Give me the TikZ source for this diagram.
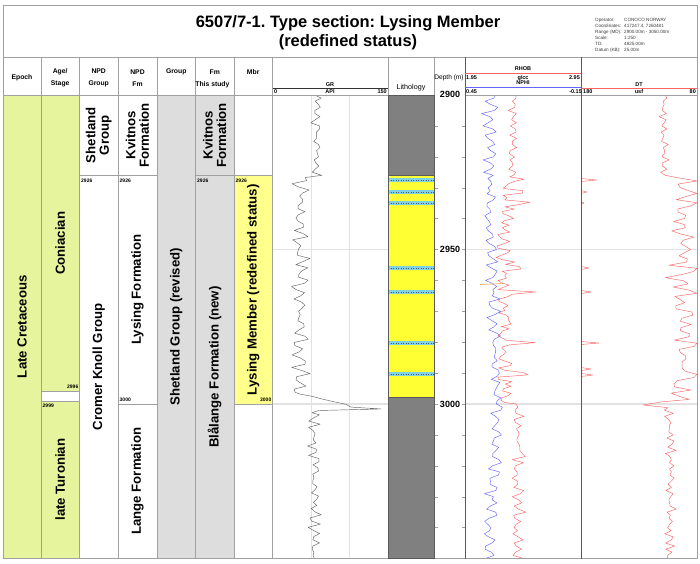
\documentclass[tikz,border=0pt]{standalone}
\usepackage{fontspec}
\setmainfont{Liberation Sans}
\frenchspacing
\definecolor{epochc}{RGB}{230,244,158}
\definecolor{grayc}{RGB}{221,221,221}
\definecolor{mbrc}{RGB}{255,255,140}
\definecolor{sandc}{RGB}{255,255,51}
\definecolor{shalec}{RGB}{128,128,128}
\definecolor{carbc}{RGB}{125,210,230}
\definecolor{linec}{RGB}{160,160,160}
\definecolor{darkline}{RGB}{90,90,90}
\definecolor{gridc}{RGB}{226,226,226}
\definecolor{rhobc}{RGB}{250,100,100}
\definecolor{nphic}{RGB}{100,100,250}
\definecolor{grcol}{RGB}{100,100,100}
\definecolor{infoc}{RGB}{60,60,60}
\definecolor{markc}{RGB}{240,170,80}
\begin{document}
\begin{tikzpicture}[x=1pt,y=-1pt,
  cell/.style={draw=linec,line width=0.5pt},
  hdr/.style={font=\bfseries\fontsize{6.8}{11.5}\selectfont,align=center,inner sep=0pt},
  trk/.style={font=\bfseries\fontsize{5.5}{6}\selectfont,inner sep=0pt},
  body/.style={font=\bfseries\fontsize{13.2}{13.5}\selectfont,rotate=90,align=center,inner sep=0pt},
  dlab/.style={font=\bfseries\fontsize{5}{5}\selectfont,inner sep=0pt},
  deplab/.style={font=\bfseries\fontsize{9}{9}\selectfont,inner sep=0pt},
  info/.style={font=\fontsize{4.6}{5}\selectfont,text=infoc,inner sep=0pt,anchor=west},
  titlestyle/.style={font=\bfseries\fontsize{16.5}{19}\selectfont,inner sep=0pt},
  curve/.style={line width=0.45pt,line join=round},
  declare function={
    sp(\s)=max(0,1-abs(\s-27.5)/0.8)+max(0,1-abs(\s-31.4)/0.8)+max(0,1-abs(\s-35)/0.8)+max(0,1-abs(\s-56)/0.8)+max(0,1-abs(\s-63.8)/0.8)+max(0,1-abs(\s-80.3)/0.8)+max(0,1-abs(\s-90.3)/0.8);
    dy(\s)=95+3.09*\s;
  }]
\useasboundingbox (0,0) rectangle (700,563);
\fill[white] (0,0) rectangle (700,563);
% ---- column fills
\fill[epochc] (3,95) rectangle (41,558.5);
\fill[epochc] (41,95) rectangle (79.5,391.6);
\fill[epochc] (41,400.9) rectangle (79.5,558.5);
\fill[grayc] (157,95) rectangle (234,558.5);
\fill[mbrc] (234,175.3) rectangle (272.5,404);
% ---- track grids
\draw[gridc,line width=0.5pt] (311,95) -- (311,558.5) (349.7,95) -- (349.7,558.5);
\draw[gridc,line width=1.3pt] (272.5,249.5) -- (388,249.5) (272.5,404) -- (388,404)
  (465,249.5) -- (697,249.5) (465,404) -- (697,404);
% ---- lithology
\fill[shalec] (388,95) rectangle (434.5,175.5);
\fill[sandc] (388,175.5) rectangle (434.5,397);
\fill[shalec] (388,397) rectangle (434.5,558.5);
\foreach \yy in {180,192,203,268,292,343,374} {
  \fill[carbc] (388,{\yy-1.8}) rectangle (434.5,{\yy+1.8});
  \draw[darkline,dotted,line width=0.5pt] (388,\yy) -- (434.5,\yy);
}
\draw[darkline,line width=0.4pt] (388,175.5) -- (434.5,175.5) (388,397) -- (434.5,397);
% ---- depth ticks
\foreach \d in {10,20,...,140} {
  \draw[linec,line width=0.4pt] (434.5,{dy(\d)}) -- +(3,0) (465,{dy(\d)}) -- +(-3,0);
}
% ---- curves
\pgfmathsetseed{4711}
\draw[curve,grcol] plot[domain=0:26,samples=27] ({317+3.5*sin(\x*113)+3*rand},{dy(\x)})
 -- plot[domain=26.7:96.2,samples=70] ({301+5*sin(\x*97)+5*rand},{dy(\x)})
 -- (300,{dy(96.8)}) -- (312,{dy(97.5)}) -- (321,{dy(98.3)}) -- (333,{dy(99.2)})
 -- (346,{dy(100.1)}) -- (351,{dy(101)}) -- (381,{dy(101.6)}) -- (319,{dy(102.1)}) -- (312,{dy(102.8)})
 -- plot[domain=103.5:150,samples=47] ({314+4*sin((\x-100)*123)+4*rand},{dy(\x)});
\draw[curve,rhobc] plot[domain=0:26,samples=27] ({513+3*sin(\x*131)+3*rand},{dy(\x)})
 -- plot[domain=26.5:99.5,samples=99] ({503+4*sin(\x*101)+3*rand+16*max(0,rand-0.35)+36*sp(\x)},{dy(\x)})
 -- plot[domain=100:150,samples=51] ({518+3*sin((\x-100)*117)+4*rand+10*max(0,rand-0.6)},{dy(\x)});
\draw[curve,nphic] plot[domain=0:26,samples=27] ({490+5*sin(\x*97+30)+4*rand},{dy(\x)})
 -- plot[domain=27:99,samples=73] ({488+0.13*(\x-26)+4*sin(\x*89)+3.5*rand+4*sp(\x)},{dy(\x)})
 -- plot[domain=100:150,samples=51] ({498-0.2*(\x-100)+5*sin((\x-100)*83)+4*rand},{dy(\x)});
\draw[curve,rhobc] plot[domain=0:26,samples=27] ({664+3*sin(\x*141)+2.5*rand},{dy(\x)})
 -- plot[domain=26.8:98.5,samples=72] ({min(697,684+6*sin(\x*103)+5*rand-24*max(0,rand-0.5)+30*sp(\x))},{dy(\x)})
 -- (662,{dy(99.3)}) -- (643,{dy(100.3)}) -- (668,{dy(101.2)})
 -- plot[domain=102:150,samples=49] ({670+3*sin((\x-100)*151)+3.5*rand+12*max(0,rand-0.75)},{dy(\x)});
\foreach \yy/\w in {180/16,192/6,203/3,268/8,292/10,343/18,369/10,375/12}
  \draw[curve,rhobc] (581,{\yy-1.5}) -- ({581+\w},\yy) -- (581,{\yy+1.5});
\draw[markc,line width=0.6pt] (480,284.5) -- (503,283.5);
% ---- table lines
\draw[cell] (3,5) rectangle (697,558.5);
\draw[cell] (3,57) -- (697,57);
\draw[cell] (3,95) -- (434.5,95) (465,95) -- (697,95);
\foreach \xx in {41,79.5,118,157,195.5,234,272.5,388,434.5}
  \draw[cell] (\xx,57) -- (\xx,558.5);
\draw[darkline,line width=0.5pt] (465,57) -- (465,558.5) (581,57) -- (581,558.5);
\draw[cell] (41,391.6) -- (79.5,391.6) (41,400.9) -- (79.5,400.9);
\draw[cell] (79.5,175.3) -- (157,175.3);
\draw[cell] (118,404) -- (157,404);
\draw[cell] (195.5,175.3) -- (272.5,175.3);
\draw[cell] (234,404) -- (272.5,404);
\draw[darkline,line width=0.4pt] (388,95) rectangle (434.5,558.5);
% ---- title & info
\node[titlestyle] (t1) at (348,23) {6507/7-1. Type section: Lysing Member};
\node[titlestyle] (t2) at (348,42) {(redefined status)};
\node[info] (i1) at (595,20) {Operator:};      \node[info] (v1) at (624,20) {CONOCO NORWAY};
\node[info] (i2) at (595,26) {Coordinates:};   \node[info] (v2) at (624,26) {417247.4, 7260481};
\node[info] (i3) at (595,32) {Range (MD):};    \node[info] (v3) at (624,32) {2900.00m - 3050.00m};
\node[info] (i4) at (595,38) {Scale:};         \node[info] (v4) at (624,38) {1:250};
\node[info] (i5) at (595,44) {TD:};            \node[info] (v5) at (624,44) {4825.00m};
\node[info] (i6) at (595,50) {Datum (KB):};    \node[info] (v6) at (624,50) {25.00m};
% ---- column headers
\node[hdr] (h1) at (22,78) {Epoch};
\node[hdr] (h2) at (60.2,78) {Age/\\Stage};
\node[hdr] (h3) at (98.7,78) {NPD\\Group};
\node[hdr] (h4) at (137.5,78) {NPD\\Fm};
\node[hdr] (h5) at (176.2,72) {Group};
\node[hdr] (h6) at (214.7,72) {Fm};
\node[hdr,anchor=west] (h6b) at (195.2,84.5) {This study};
\node[hdr] (h7) at (253.2,72) {Mbr};
\node[trk] (gr) at (330,84.5) {GR};
\draw[black!80,line width=0.5pt] (272.5,88) -- (388,88);
\node[trk,anchor=west] (gr0) at (274,92) {0};
\node[trk] (grapi) at (330,92) {API};
\node[trk,anchor=east] (gr1) at (387,92) {150};
\node[font=\fontsize{7.2}{8}\selectfont,inner sep=0pt] (lith) at (411,88) {Lithology};
\node[font=\fontsize{6.6}{7}\selectfont,inner sep=0pt] (dep) at (449,78) {Depth (m)};
\node[trk] (rhob) at (523,69) {RHOB};
\draw[rhobc,line width=0.6pt] (465,73) -- (581,73);
\node[trk,anchor=west] (rh0) at (466,78) {1.95};
\node[trk] (rhu) at (523,78) {g/cc};
\node[trk,anchor=east] (rh1) at (580,78) {2.95};
\node[trk] (nphi) at (523,83) {NPHI};
\draw[nphic,line width=0.6pt] (465,87.5) -- (581,87.5);
\node[trk,anchor=west] (np0) at (466,92) {0.45};
\node[trk,anchor=east] (np1) at (582,92) {-0.15};
\node[trk] (dt) at (639,85) {DT};
\draw[rhobc,line width=0.6pt] (581,88) -- (697,88);
\node[trk,anchor=west] (dt0) at (583,92) {180};
\node[trk] (dtu) at (639,92) {usf};
\node[trk,anchor=east] (dt1) at (696,92) {80};
% ---- depth labels
\node[deplab] (d1) at (450,94.5) {2900};
\node[deplab] (d2) at (450,249.5) {2950};
\node[deplab] (d3) at (450,404) {3000};
% ---- body texts
\node[body] (b1) at (22,326.7) {Late Cretaceous};
\node[body] (b2) at (60.2,243.3) {Coniacian};
\node[body] (b3) at (60.2,479.7) {late Turonian};
\node[body] (b4) at (98.7,135.2) {Shetland\\Group};
\node[body] (b5) at (98.7,367) {Cromer Knoll Group};
\node[body] (b6) at (137.5,135.2) {Kvitnos\\Formation};
\node[body] (b7) at (137.5,289.7) {Lysing Formation};
\node[body] (b8) at (137.5,481.2) {Lange Formation};
\node[body] (b9) at (176.2,326.7) {Shetland Group (revised)};
\node[body] (b10) at (214.7,135.2) {Kvitnos\\Formation};
\node[body] (b11) at (214.7,367) {Blålange Formation (new)};
\node[body] (b12) at (253.2,289.7) {Lysing Member (redefined status)};
% ---- boundary depth labels
\node[dlab,anchor=east] (l1) at (78.5,387) {2996};
\node[dlab,anchor=west] (l2) at (42.5,405.5) {2999};
\node[dlab,anchor=west] (l3) at (81,180.5) {2926};
\node[dlab,anchor=west] (l4) at (119.5,180.5) {2926};
\node[dlab,anchor=west] (l5) at (119.5,399.5) {3000};
\node[dlab,anchor=west] (l6) at (197,180.5) {2926};
\node[dlab,anchor=west] (l7) at (235.5,180.5) {2926};
\node[dlab,anchor=east] (l8) at (271.5,399.5) {3000};
\end{tikzpicture}
\end{document}
